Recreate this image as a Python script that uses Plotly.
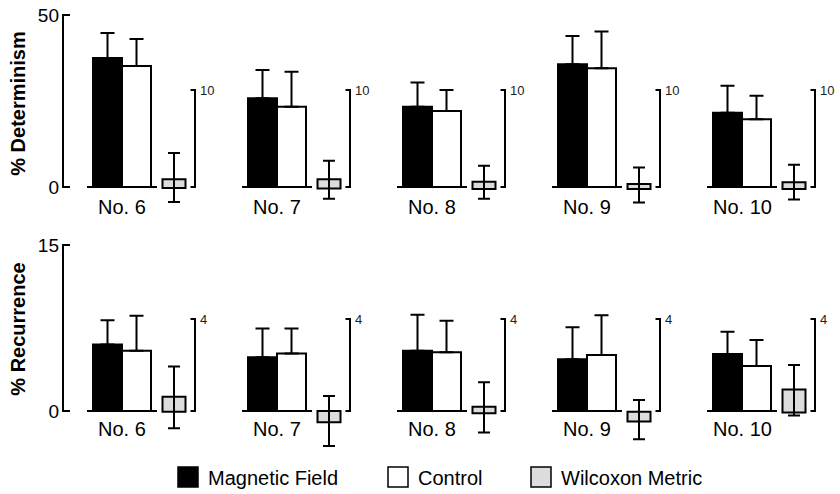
import plotly.graph_objects as go

# ---------------- data ----------------
groups = ["No. 6", "No. 7", "No. 8", "No. 9", "No. 10"]

# % Determinism (mean, upper error)
det_field = [37.5, 25.8, 23.3, 35.7, 21.6]
det_field_err = [7.3, 8.2, 7.1, 8.2, 7.8]
det_control = [35.2, 23.3, 22.1, 34.5, 19.7]
det_control_err = [7.8, 10.2, 6.1, 10.7, 6.8]
# Wilcoxon metric (box low/high, whisker low/high), own scale 0-10
det_wil_box_lo = [-0.1, -0.15, -0.2, -0.2, -0.2]
det_wil_box_hi = [0.8, 0.8, 0.55, 0.3, 0.5]
det_wil_lo = [-1.55, -1.2, -1.2, -1.6, -1.3]
det_wil_hi = [3.5, 2.7, 2.2, 2.0, 2.3]

# % Recurrence
rec_field = [6.0, 4.85, 5.45, 4.67, 5.15]
rec_field_err = [2.2, 2.6, 3.25, 2.9, 2.0]
rec_control = [5.45, 5.2, 5.3, 5.06, 4.07]
rec_control_err = [3.15, 2.25, 2.85, 3.6, 2.35]
rec_wil_box_lo = [-0.03, -0.49, -0.1, -0.46, -0.07]
rec_wil_box_hi = [0.62, 0.0, 0.19, -0.03, 0.94]
rec_wil_lo = [-0.75, -1.52, -0.93, -1.23, -0.2]
rec_wil_hi = [1.93, 0.65, 1.25, 0.48, 2.0]

det_ticks = [0, 50]
rec_ticks = [0, 15]
det_wil_max = 10
rec_wil_max = 4

# ---------------- layout constants ----------------
W, H = 840, 494
ML = 60                       # left margin (px)
UNIT = 155.0                  # px per group
C0 = 122.0                    # px of first group centre
AXPX = 63.0                   # px of left bracket axis
FONT = "Liberation Sans"

W_BAR = 29 / UNIT
BOX_OFF = 52 / UNIT
BOX_W = 23 / UNIT
BR_OFF = 73 / UNIT
STUB = 4.5 / UNIT
AX_STUB = 7 / UNIT
BASE_HALF = 35 / UNIT
AX = (AXPX - C0) / UNIT
xs = list(range(len(groups)))
x_range = [(ML - C0) / UNIT, (W - C0) / UNIT]


def yrange(ptop, pbot, zero_px, px_per_unit):
    return [-(pbot - zero_px) / px_per_unit, (zero_px - ptop) / px_per_unit]


def ydomain(ptop, pbot):
    return [1 - pbot / H, 1 - ptop / H]


rows = [
    dict(ptop=0, pbot=207, zero=187, k=172 / 50, k2=97 / 10, lab_shift=-20,
         field=det_field, field_err=det_field_err, ctrl=det_control, ctrl_err=det_control_err,
         blo=det_wil_box_lo, bhi=det_wil_box_hi, wlo=det_wil_lo, whi=det_wil_hi,
         ticks=det_ticks, wmax=det_wil_max, title="% Determinism",
         xa="x", ya="y", ya2="y2"),
    dict(ptop=210, pbot=448, zero=411, k=166 / 15, k2=92 / 4, lab_shift=-18,
         field=rec_field, field_err=rec_field_err, ctrl=rec_control, ctrl_err=rec_control_err,
         blo=rec_wil_box_lo, bhi=rec_wil_box_hi, wlo=rec_wil_lo, whi=rec_wil_hi,
         ticks=rec_ticks, wmax=rec_wil_max, title="% Recurrence",
         xa="x2", ya="y3", ya2="y4"),
]

fig = go.Figure()
annotations = []
n = len(groups)

for r in rows:
    xa, ya, ya2 = r["xa"], r["ya"], r["ya2"]
    fig.add_trace(go.Bar(
        x=xs, y=r["field"], offset=-W_BAR, width=W_BAR, xaxis=xa, yaxis=ya,
        marker=dict(color="black", line=dict(color="black", width=2)),
        error_y=dict(type="data", symmetric=False, array=r["field_err"], arrayminus=[0] * n,
                     color="black", thickness=2, width=7),
        showlegend=False, name="Magnetic Field"))
    fig.add_trace(go.Bar(
        x=xs, y=r["ctrl"], offset=0, width=W_BAR, xaxis=xa, yaxis=ya,
        marker=dict(color="white", line=dict(color="black", width=2)),
        error_y=dict(type="data", symmetric=False, array=r["ctrl_err"], arrayminus=[0] * n,
                     color="black", thickness=2, width=7),
        showlegend=False, name="Control"))
    bx, by = [], []
    for i in xs:
        bx += [i - BASE_HALF, i + BASE_HALF, None]
        by += [0, 0, None]
    fig.add_trace(go.Scatter(x=bx, y=by, mode="lines", xaxis=xa, yaxis=ya,
                             line=dict(color="black", width=2), showlegend=False, hoverinfo="skip"))
    t0, t1 = r["ticks"]
    fig.add_trace(go.Scatter(x=[AX + AX_STUB, AX, AX, AX + AX_STUB], y=[t0, t0, t1, t1],
                             mode="lines", xaxis=xa, yaxis=ya,
                             line=dict(color="black", width=2), showlegend=False, hoverinfo="skip"))
    fig.add_trace(go.Bar(
        x=xs, base=r["blo"], y=[h - l for l, h in zip(r["blo"], r["bhi"])],
        offset=BOX_OFF - BOX_W / 2, width=BOX_W, xaxis=xa, yaxis=ya2,
        marker=dict(color="#dcdcdc", line=dict(color="black", width=2)),
        showlegend=False, name="Wilcoxon Metric"))
    centers = [(l + h) / 2 for l, h in zip(r["blo"], r["bhi"])]
    fig.add_trace(go.Scatter(
        x=[i + BOX_OFF for i in xs], y=centers, mode="markers", xaxis=xa, yaxis=ya2,
        marker=dict(size=1, color="rgba(0,0,0,0)"),
        error_y=dict(type="data", symmetric=False,
                     array=[h - c for h, c in zip(r["whi"], centers)],
                     arrayminus=[c - l for l, c in zip(r["wlo"], centers)],
                     color="black", thickness=2, width=6),
        showlegend=False, hoverinfo="skip"))
    kx, ky = [], []
    for i in xs:
        b = i + BR_OFF
        kx += [b - STUB, b, b, b - STUB, None]
        ky += [0, 0, r["wmax"], r["wmax"], None]
    fig.add_trace(go.Scatter(x=kx, y=ky, mode="lines", xaxis=xa, yaxis=ya2,
                             line=dict(color="black", width=2), showlegend=False, hoverinfo="skip"))
    for i in xs:
        annotations.append(dict(x=i + BR_OFF, y=r["wmax"], xref=xa, yref=ya2, text=str(r["wmax"]),
                                showarrow=False, xanchor="left", yanchor="middle", xshift=3,
                                font=dict(family=FONT, size=13, color="#222222")))
        annotations.append(dict(x=i, y=0, xref=xa, yref=ya, text=groups[i], showarrow=False,
                                xanchor="center", yanchor="middle", yshift=r["lab_shift"],
                                font=dict(family=FONT, size=20, color="black")))

axis_common = dict(showgrid=False, zeroline=False, showline=False, ticks="", fixedrange=True,
                   automargin=False)

layout = dict(
    template="none",
    width=W, height=H, margin=dict(l=ML, r=0, t=0, b=0, pad=0),
    paper_bgcolor="white", plot_bgcolor="white", barmode="overlay",
    font=dict(family=FONT, color="black"),
    showlegend=False,
)
for idx, r in enumerate(rows):
    xkey = "xaxis" if idx == 0 else "xaxis2"
    ykey = "yaxis" if idx == 0 else "yaxis3"
    y2key = "yaxis2" if idx == 0 else "yaxis4"
    dom = ydomain(r["ptop"], r["pbot"])
    layout[xkey] = dict(axis_common, range=x_range, domain=[0, 1], showticklabels=False,
                        anchor=r["ya"])
    layout[ykey] = dict(axis_common, domain=dom, anchor=r["xa"],
                        range=yrange(r["ptop"], r["pbot"], r["zero"], r["k"]),
                        tickvals=r["ticks"], tickfont=dict(family=FONT, size=19, color="black"),
                        title=dict(text="<b>" + r["title"] + "</b>", standoff=6,
                                   font=dict(family=FONT, size=20, color="black")))
    layout[y2key] = dict(axis_common, overlaying=r["ya"], visible=False,
                         range=yrange(r["ptop"], r["pbot"], r["zero"], r["k2"]))

fig.update_layout(**layout)


def px_x(p):
    return (p - ML) / (W - ML)


def px_y(p):
    return 1 - p / H


legend_items = [("Magnetic Field", "black", 178), ("Control", "white", 388), ("Wilcoxon Metric", "#dcdcdc", 531)]
shapes = []
for label, color, x0 in legend_items:
    shapes.append(dict(type="rect", xref="paper", yref="paper",
                       x0=px_x(x0), x1=px_x(x0 + 20), y0=px_y(487), y1=px_y(467),
                       fillcolor=color, line=dict(color="black", width=1.5)))
    annotations.append(dict(x=px_x(x0 + 28), y=px_y(478), xref="paper", yref="paper",
                            text=label, showarrow=False, xanchor="left", yanchor="middle",
                            font=dict(family=FONT, size=20, color="black")))

fig.update_layout(annotations=annotations, shapes=shapes)
fig.write_html("out.html", config={"displayModeBar": False},
               post_script="document.body.style.margin='0';")
